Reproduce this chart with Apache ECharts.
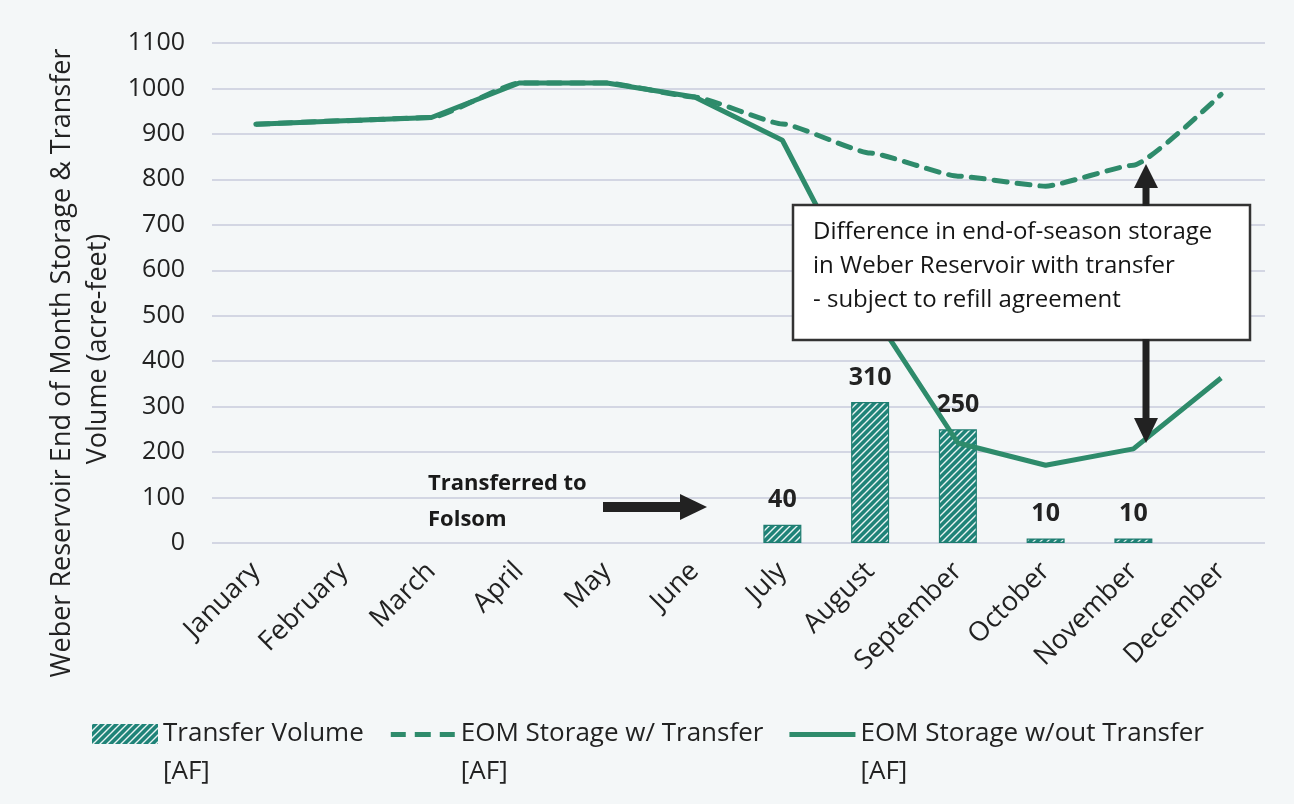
<!DOCTYPE html>
<html>
<head>
<meta charset="utf-8">
<script src="https://cdn.jsdelivr.net/npm/echarts@6/dist/echarts.min.js"></script>
<style>
html,body{margin:0;padding:0;background:#f4f7f8;}
#chart{width:1294px;height:804px;}
</style>
</head>
<body>
<div id="chart"></div>
<script>
// ---- data ----
const months = ['January','February','March','April','May','June','July','August','September','October','November','December'];
const transferVolume = [null, null, null, null, null, null, 40, 310, 250, 10, 10, null];
const storageWithTransfer = [921, 929, 936, 1012, 1012, 981, 922, 858, 807, 785, 831, 987];
const storageWithoutTransfer = [921, 929, 936, 1012, 1012, 981, 886, 515, 220, 171, 207, 363];
const yMin = 0, yMax = 1100, yInterval = 100;
const legendNames = ['Transfer Volume\n[AF]', 'EOM Storage w/ Transfer\n[AF]', 'EOM Storage w/out Transfer\n[AF]'];

const FONT = '"Open Sans", "Noto Sans", sans-serif';
const TEXT = '#222';
const GREEN = '#2e8b6b';

// hatch pattern for bars
function makeHatch() {
  const s = 7;
  const c = document.createElement('canvas');
  c.width = s; c.height = s;
  const ctx = c.getContext('2d');
  ctx.fillStyle = '#1f8378';
  ctx.fillRect(0, 0, s, s);
  ctx.strokeStyle = 'rgba(245,250,250,0.95)';
  ctx.lineWidth = 1.4;
  ctx.beginPath();
  ctx.moveTo(0, s); ctx.lineTo(s, 0);
  ctx.moveTo(-1, 1); ctx.lineTo(1, -1);
  ctx.moveTo(s - 1, s + 1); ctx.lineTo(s + 1, s - 1);
  ctx.stroke();
  return c;
}
const hatch = { image: makeHatch(), repeat: 'repeat' };

// legend icons: visible part in the top 20px of a 66x58 box so it sits beside the first text line
const pad = ' M0,0h0.01v0.01h-0.01z M65.99,57.99h0.01v0.01h-0.01z';
const iconBar = 'path://M0,0h66v20h-66z' + pad;
const iconDash = 'path://M1,8h15v5h-15z M25,8h16v5h-16z M50,8h15v5h-15z' + pad;
const iconSolid = 'path://M0,8h66v5h-66z' + pad;

const chart = echarts.init(document.getElementById('chart'), null, { renderer: 'canvas' });

chart.setOption({
  backgroundColor: '#f4f7f8',
  animation: false,
  grid: { left: 212, right: 29, top: 43, bottom: 261, containLabel: false },
  xAxis: {
    type: 'category',
    data: months,
    axisLine: { show: false },
    axisTick: { show: false },
    axisLabel: { rotate: 45, fontSize: 27, color: TEXT, fontFamily: FONT, margin: 24, interval: 0 }
  },
  yAxis: {
    type: 'value',
    min: yMin, max: yMax, interval: yInterval,
    axisLine: { show: false },
    axisTick: { show: false },
    axisLabel: { fontSize: 25, color: TEXT, fontFamily: FONT, margin: 27, formatter: v => String(v) },
    splitLine: { lineStyle: { color: '#c9cbdc', width: 1.5 } }
  },
  legend: {
    left: 87,
    top: 710,
    itemWidth: 66,
    itemHeight: 58,
    itemGap: 26,
    symbolKeepAspect: true,
    itemStyle: { borderWidth: 0 },
    data: [
      { name: legendNames[0], icon: iconBar },
      { name: legendNames[1], icon: iconDash },
      { name: legendNames[2], icon: iconSolid }
    ],
    textStyle: { fontSize: 26, color: TEXT, fontFamily: FONT, lineHeight: 38 }
  },
  series: [
    {
      name: legendNames[0],
      type: 'bar',
      data: transferVolume,
      barWidth: 38,
      itemStyle: { color: hatch, borderColor: '#1e7d70', borderWidth: 1.2 },
      label: {
        show: true, position: 'top', distance: 12,
        fontSize: 25, fontWeight: 'bold', color: TEXT, fontFamily: FONT,
        formatter: p => (p.value == null ? '' : String(p.value))
      },
      z: 2
    },
    {
      name: legendNames[1],
      type: 'line',
      data: storageWithTransfer,
      symbol: 'none',
      smooth: 0.15,
      smoothMonotone: 'x',
      lineStyle: { color: GREEN, width: 5, type: [13, 10], cap: 'round' },
      itemStyle: { color: GREEN },
      z: 3
    },
    {
      name: legendNames[2],
      type: 'line',
      data: storageWithoutTransfer,
      symbol: 'none',
      lineStyle: { color: GREEN, width: 5 },
      itemStyle: { color: GREEN },
      z: 4
    }
  ]
});

// ---- annotations ----
const arrowColor = '#222';
chart.setOption({
  graphic: [
    { type: 'text', x: 62, y: 363, rotation: Math.PI / 2, z: 50,
      style: { text: 'Weber Reservoir End of Month Storage & Transfer', fontSize: 27, fontFamily: FONT, fill: TEXT, textAlign: 'center', textVerticalAlign: 'middle' } },
    { type: 'text', x: 98, y: 349, rotation: Math.PI / 2, z: 50,
      style: { text: 'Volume (acre-feet)', fontSize: 27, fontFamily: FONT, fill: TEXT, textAlign: 'center', textVerticalAlign: 'middle' } },
    { type: 'text', x: 428, y: 466, z: 50,
      style: { text: 'Transferred to\nFolsom', fontSize: 22, fontWeight: 'bold', fontFamily: FONT, fill: '#1a1a1a', lineHeight: 36 } },
    // horizontal arrow
    { type: 'rect', z: 50, shape: { x: 603, y: 502, width: 80, height: 10 }, style: { fill: arrowColor } },
    { type: 'polygon', z: 50, shape: { points: [[680, 494], [707, 507], [680, 520]] }, style: { fill: arrowColor } },
    // box
    { type: 'rect', z: 100, shape: { x: 793, y: 205, width: 457, height: 135 }, style: { fill: '#ffffff', stroke: '#333', lineWidth: 2.5 } },
    { type: 'text', x: 813, y: 215, z: 101,
      style: { text: 'Difference in end-of-season storage\nin Weber Reservoir with transfer\n- subject to refill agreement', fontSize: 24, fontFamily: FONT, fill: '#151515', lineHeight: 34 } },
    // up arrow
    { type: 'rect', z: 100, shape: { x: 1142.5, y: 186, width: 7, height: 20 }, style: { fill: arrowColor } },
    { type: 'polygon', z: 100, shape: { points: [[1134, 188], [1146, 164], [1158, 188]] }, style: { fill: arrowColor } },
    // down arrow
    { type: 'rect', z: 100, shape: { x: 1142.5, y: 339, width: 7, height: 81 }, style: { fill: arrowColor } },
    { type: 'polygon', z: 100, shape: { points: [[1134, 418], [1146, 443], [1158, 418]] }, style: { fill: arrowColor } }
  ]
});
</script>
</body>
</html>
